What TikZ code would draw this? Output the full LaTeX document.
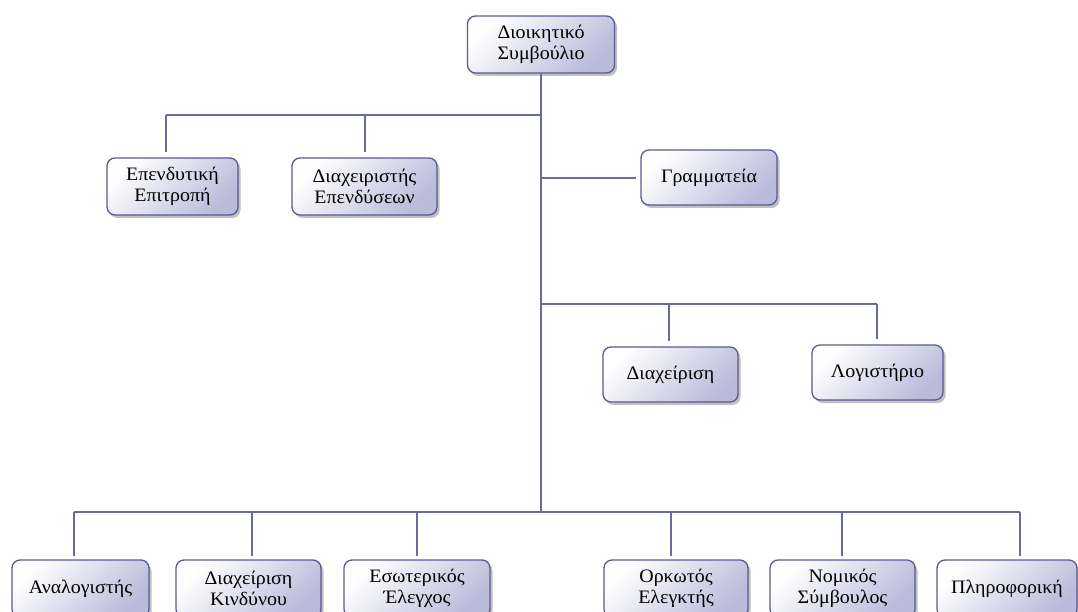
\documentclass[tikz,border=0pt]{standalone}
\usepackage{fontspec}
\setmainfont{Liberation Serif}[FakeStretch=1.05]
\usetikzlibrary{shadows}
\definecolor{lineC}{HTML}{6A6A9C}
\definecolor{edgeC}{HTML}{5A5A92}
\definecolor{lavC}{HTML}{BABADB}
\tikzset{
  box/.style={draw=edgeC, line width=1.3pt, rounded corners=8pt,
    top color=white, bottom color=lavC, shading angle=45,
    drop shadow={shadow xshift=2.5pt, shadow yshift=-3pt, opacity=0.35, fill=black!70},
    align=center, inner sep=2pt, font=\fontsize{19}{20.5}\selectfont,
    minimum height=57pt},
  conn/.style={draw=lineC, line width=1.3pt},
}
\begin{document}
\begin{tikzpicture}[x=1pt,y=-1pt]
\path[use as bounding box] (0,0) rectangle (1078,612);
\clip (0,0) rectangle (1078,612);
% nodes
\node[box, minimum width=147pt] (top) at (541,44.5) {Διοικητικό\\Συμβούλιο};
\node[box, minimum width=131pt] (e1) at (172.5,186.5) {Επενδυτική\\Επιτροπή};
\node[box, minimum width=145pt] (e2) at (364.5,186.5) {Διαχειριστής\\Επενδύσεων};
\node[box, minimum width=136pt, minimum height=55pt] (gr) at (709,177.5) {Γραμματεία};
\node[box, minimum width=135pt, minimum height=55pt] (dx) at (670.5,374.5) {Διαχείριση};
\node[box, minimum width=131pt, minimum height=55pt] (lo) at (877.5,372.5) {Λογιστήριο};
\node[box, minimum width=137pt] (b1) at (80.5,588.5) {Αναλογιστής};
\node[box, minimum width=145pt] (b2) at (248.5,588.5) {Διαχείριση\\Κινδύνου};
\node[box, minimum width=146pt] (b3) at (417,588.5) {Εσωτερικός\\Έλεγχος};
\node[box, minimum width=144pt] (b4) at (676,588.5) {Ορκωτός\\Ελεγκτής};
\node[box, minimum width=145pt] (b5) at (842.5,588.5) {Νομικός\\Σύμβουλος};
\node[box, minimum width=140pt] (b6) at (1007,588.5) {Πληροφορική};
% bus coordinates
\coordinate (hA) at (541,115);
\coordinate (a1) at (166,115);
\coordinate (a2) at (365,115);
\coordinate (hG) at (541,178);
\coordinate (hM) at (541,304);
\coordinate (m1) at (669,304);
\coordinate (m2) at (877,304);
\coordinate (hB) at (541,512);
\coordinate (c1) at (74,512);
\coordinate (c2) at (252,512);
\coordinate (c3) at (417,512);
\coordinate (c4) at (671,512);
\coordinate (c5) at (842,512);
\coordinate (c6) at (1020,512);
% connectors
\draw[conn] (top.south) -- (top.south |- hB);
\draw[conn] (hA) -- (a1);
\draw[conn, shorten >=5pt] (a1) -- (a1 |- e1.north);
\draw[conn, shorten >=5pt] (a2) -- (a2 |- e2.north);
\draw[conn, shorten >=4pt] (hG) -- (hG -| gr.west);
\draw[conn] (hM) -- (m2);
\draw[conn, shorten >=5pt] (m1) -- (m1 |- dx.north);
\draw[conn, shorten >=5pt] (m2) -- (m2 |- lo.north);
\draw[conn] (c1) -- (c6);
\foreach \c/\n in {c1/b1,c2/b2,c3/b3,c4/b4,c5/b5,c6/b6}
  \draw[conn, shorten >=3pt] (\c) -- (\c |- \n.north);
\end{tikzpicture}
\end{document}
